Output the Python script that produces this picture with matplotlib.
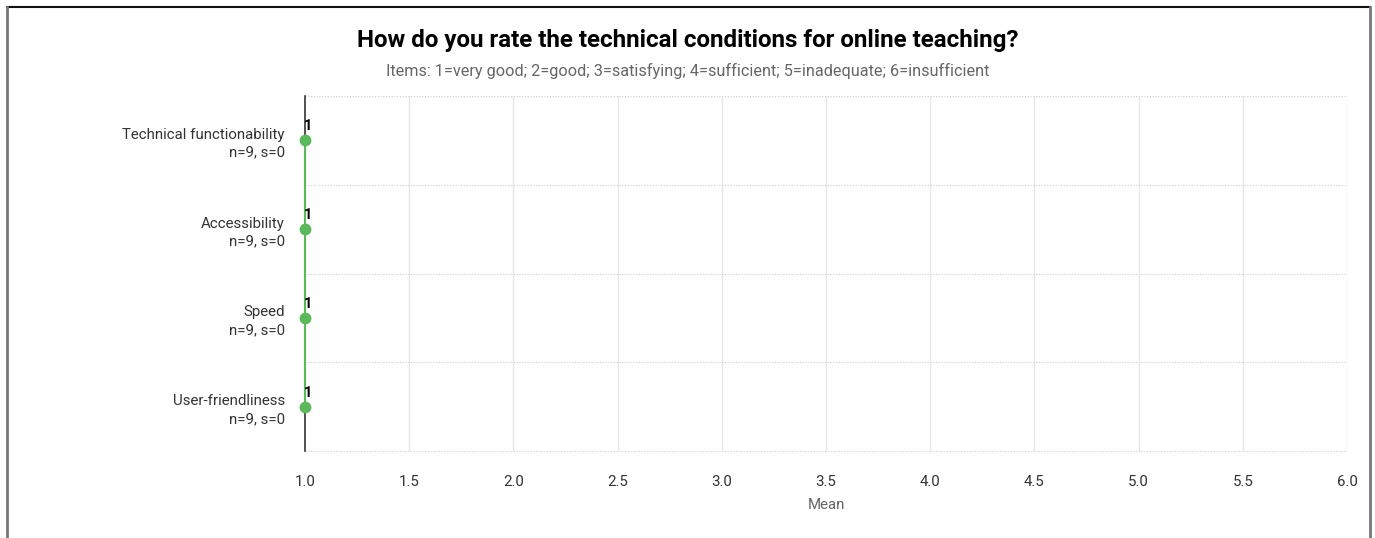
import numpy as np
import matplotlib.pyplot as plt
from matplotlib.lines import Line2D

plt.rcParams['font.family'] = ['Roboto', 'DejaVu Sans']

items = ['Technical functionability', 'Accessibility', 'Speed', 'User-friendliness']
n_vals = [9, 9, 9, 9]
s_vals = [0, 0, 0, 0]
means = [1, 1, 1, 1]
x_ticks = [1.0, 1.5, 2.0, 2.5, 3.0, 3.5, 4.0, 4.5, 5.0, 5.5, 6.0]

green = '#5cb85c'

fig = plt.figure(figsize=(13.75, 5.38), dpi=100)
ax = fig.add_axes([305/1375, 1-451/538, (1347-305)/1375, (451-96)/538])

y = np.arange(len(items))
ax.plot(means, y, '-', color=green, linewidth=1.5, zorder=3, clip_on=False)
ax.plot(means, y, 'o', color=green, markersize=7.5, zorder=4, clip_on=False)
for xi, yi in zip(means, y):
    ax.annotate(str(xi), (xi, yi), xytext=(-1, 5), textcoords='offset points',
                ha='left', va='bottom', fontsize=10.5, fontweight='bold', color='black')

ax.set_xlim(1, 6)
ax.set_ylim(len(items) - 0.5, -0.5)
ax.set_xticks(x_ticks)
ax.set_xticklabels([f'{v:.1f}' for v in x_ticks])
ax.set_yticks(y)
ax.set_yticklabels([f'{name}\nn={n}, s={s}' for name, n, s in zip(items, n_vals, s_vals)],
                   ha='right', linespacing=1.35)
ax.tick_params(axis='both', length=0, labelsize=10.8, colors='#333333')
ax.tick_params(axis='x', pad=17)
ax.tick_params(axis='y', pad=14.5)
ax.set_xlabel('Mean', fontsize=10.8, color='#666666', labelpad=7)

for v in x_ticks[1:]:
    ax.axvline(v, color='#e6e6e6', linewidth=1, zorder=1)
for b in np.arange(-0.5, len(items), 1.0):
    ax.axhline(b, color='#cccccc', linewidth=0.8, linestyle=(0, (1, 1.5)), zorder=1, clip_on=False)
for side in ['top', 'right', 'bottom']:
    ax.spines[side].set_visible(False)
ax.spines['left'].set_color('#333333')
ax.spines['left'].set_linewidth(1.2)

fig.text(0.5, 1-40/538, 'How do you rate the technical conditions for online teaching?',
         ha='center', va='center', fontsize=17.4, fontweight='bold', color='black')
fig.text(0.5, 1-71/538, 'Items: 1=very good; 2=good; 3=satisfying; 4=sufficient; 5=inadequate; 6=insufficient',
         ha='center', va='center', fontsize=11.7, color='#666666')

# frame around the chart
fig.add_artist(Line2D([6.5/1375, 1369.5/1375], [1-6.5/538, 1-6.5/538], color='#111111', linewidth=1.5, transform=fig.transFigure))
fig.add_artist(Line2D([6.5/1375, 6.5/1375], [0, 1-6.5/538], color='#777777', linewidth=2, transform=fig.transFigure))
fig.add_artist(Line2D([1369.5/1375, 1369.5/1375], [0, 1-6.5/538], color='#777777', linewidth=2, transform=fig.transFigure))

fig.savefig('out.png', dpi=100)
